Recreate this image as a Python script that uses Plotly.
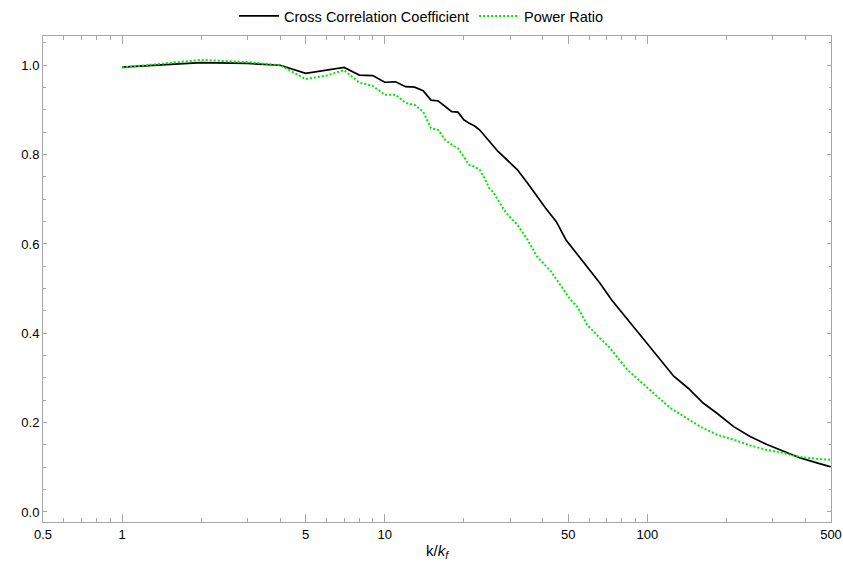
"""Cross correlation coefficient and power ratio versus k/k_f."""
import plotly.graph_objects as go

# Cross correlation coefficient (black, solid)
k_ccc = [1, 2, 3, 4, 5, 6, 7, 8, 9, 10, 11, 12, 13, 14, 15, 16, 17, 18, 19, 20,
         21, 22, 23, 24, 25, 26, 27, 32, 35, 41, 45, 49, 55, 60, 66, 73, 86, 97,
         112, 126, 143, 163, 184, 213, 246, 285, 330, 382, 442, 500]
ccc = [0.996, 1.006, 1.004, 1.000, 0.982, 0.989, 0.995, 0.978, 0.977, 0.962,
       0.963, 0.952, 0.951, 0.943, 0.922, 0.920, 0.907, 0.896, 0.895, 0.878,
       0.870, 0.864, 0.855, 0.842, 0.829, 0.817, 0.807, 0.766, 0.736, 0.680,
       0.650, 0.609, 0.572, 0.542, 0.512, 0.475, 0.423, 0.385, 0.341, 0.304,
       0.277, 0.244, 0.221, 0.191, 0.169, 0.151, 0.136, 0.121, 0.110, 0.101]

# Power ratio (green, dotted)
k_pr = [1, 2, 3, 4, 5, 6, 7, 8, 9, 10, 11, 12, 13, 14, 15, 16, 17, 18, 19, 20,
        21, 22, 23, 24, 25, 26, 27, 29, 32, 35, 38, 43, 47, 51, 54, 59, 66, 72,
        84, 94, 109, 122, 141, 159, 184, 213, 246, 285, 330, 382, 442, 500]
pr = [0.995, 1.012, 1.007, 1.000, 0.969, 0.977, 0.989, 0.961, 0.954, 0.934,
      0.934, 0.916, 0.911, 0.896, 0.859, 0.855, 0.833, 0.822, 0.814, 0.796,
      0.777, 0.773, 0.766, 0.747, 0.725, 0.714, 0.699, 0.669, 0.643, 0.609,
      0.572, 0.538, 0.505, 0.475, 0.460, 0.419, 0.389, 0.367, 0.318, 0.292,
      0.259, 0.233, 0.210, 0.191, 0.173, 0.162, 0.149, 0.139, 0.132, 0.123,
      0.119, 0.117]

x_major = [0.5, 1, 5, 10, 50, 100, 500]
x_major_text = ["0.5", "1", "5", "10", "50", "100", "500"]
x_minor = [0.6, 0.7, 0.8, 0.9, 2, 3, 4, 6, 7, 8, 9, 20, 30, 40, 60, 70, 80, 90,
           200, 300, 400]
y_major = [0.0, 0.2, 0.4, 0.6, 0.8, 1.0]

frame = "#a6a6a6"
font = "Liberation Sans, Arial, sans-serif"

fig = go.Figure()
fig.add_trace(go.Scatter(
    x=k_ccc, y=ccc, mode="lines", name="Cross Correlation Coefficient",
    line=dict(color="black", width=1.7),
))
fig.add_trace(go.Scatter(
    x=k_pr, y=pr, mode="lines", name="Power Ratio",
    line=dict(color="#00e600", width=2, dash="2px,2px"),
))

fig.update_layout(
    width=843,
    height=564,
    margin=dict(l=43, r=12, t=36, b=42, autoexpand=False),
    paper_bgcolor="white",
    plot_bgcolor="white",
    font=dict(family=font, size=13, color="black"),
    showlegend=True,
    legend=dict(
        orientation="h", x=0.5, xanchor="center", xref="container",
        y=1.0, yanchor="top", yref="container",
        font=dict(size=14.5), itemwidth=40,
        bgcolor="rgba(0,0,0,0)",
    ),
    xaxis=dict(
        type="log",
        range=[-0.30103, 2.69897],
        tickmode="array", tickvals=x_major, ticktext=x_major_text,
        ticks="inside", ticklen=8, tickcolor=frame, tickwidth=1,
        ticklabeloverflow="allow",
        minor=dict(tickmode="array", tickvals=x_minor, ticks="inside",
                   ticklen=4, tickcolor=frame),
        showline=True, linecolor=frame, linewidth=1, mirror="ticks",
        showgrid=False, zeroline=False, automargin=False,
        title=dict(text="k/<i>k</i><sub><i>f</i></sub>", font=dict(size=15),
                   standoff=4),
    ),
    yaxis=dict(
        range=[-0.0224, 1.0655],
        tickmode="array", tickvals=y_major, tickformat=".1f",
        ticks="inside", ticklen=4, tickcolor=frame, tickwidth=1,
        minor=dict(dtick=0.05, ticks="inside", ticklen=2.5, tickcolor=frame),
        showline=True, linecolor=frame, linewidth=1, mirror="ticks",
        showgrid=False, zeroline=False, automargin=False,
    ),
)

# drop the default page margin so the 843x564 figure fills the window
fig.write_html(
    "out.html",
    config={"displayModeBar": False},
    post_script="document.body.style.margin='0';"
                "document.body.style.overflow='hidden';",
)
